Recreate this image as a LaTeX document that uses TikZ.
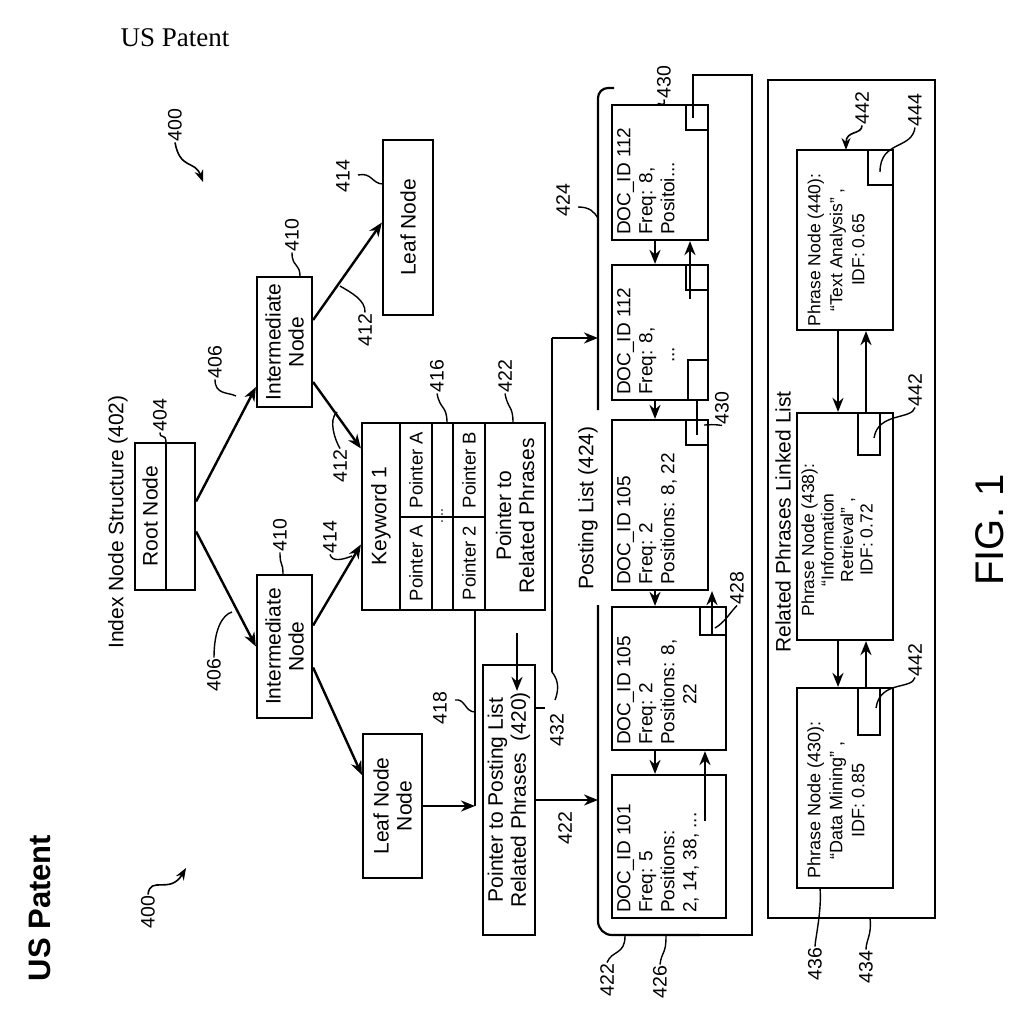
\documentclass[tikz,border=0pt]{standalone}
\usepackage{fontspec}
\setmainfont{Liberation Sans}
\newfontfamily\serifff{Liberation Serif}
\usetikzlibrary{arrows.meta,calc}
\begin{document}
\begin{tikzpicture}[x=1pt,y=-1pt,
 box/.style={draw,line width=2.2pt,inner sep=0pt},
 arr/.style={-{Stealth[length=14pt,width=11pt]},line width=2.4pt},
 sarr/.style={-{Stealth[length=12pt,width=9pt]},line width=1.6pt},
 ln/.style={line width=2.2pt},
 lead/.style={line width=1.4pt},
 lbl/.style={rotate=90,font=\fontsize{19.5}{21}\selectfont,inner sep=1pt},
 txt/.style={rotate=90,font=\fontsize{21}{23}\selectfont,align=center,inner sep=1pt},
 ctxt/.style={rotate=90,font=\fontsize{18.5}{20}\selectfont,align=center,inner sep=1pt},
 dtxt/.style={rotate=90,font=\fontsize{19}{22}\selectfont,align=left,inner sep=0pt,anchor=north west}]
\useasboundingbox (0,0) rectangle (1024,1024);

% header texts
\node[font=\serifff\fontsize{27}{29}\selectfont] (hdr) at (175,38) {US Patent};
\node[rotate=90,font=\bfseries\fontsize{31}{33}\selectfont] (hdr2) at (40,908) {US Patent};
\node[rotate=90,font=\fontsize{40}{42}\selectfont] (fig) at (990,530) {FIG. 1};
\node[txt] (title) at (118,522) {Index Node Structure (402)};

% 400 labels
\node[lbl] (l400a) at (175,125) {400};
\coordinate (t400a) at (203,182);
\draw[sarr] (l400a.west) .. controls (180,170) and (195,160) .. (t400a);
\node[lbl] (l400b) at (148,912) {400};
\coordinate (t400b) at (186,868);
\draw[sarr] (l400b.east) .. controls (150,875) and (170,895) .. (t400b);

% tree boxes
\node[box,minimum width=60pt,minimum height=147pt] (root) at (165,516.5) {};
\draw[ln] ($(root.north)+(1,0)$) -- ($(root.south)+(1,0)$);
\node[txt] (roott) at (150,516) {Root Node};
\node[box,minimum width=55pt,minimum height=130pt] (int1) at (284.5,342) {};
\node[txt] (int1t) at (284.5,342) {Intermediate\\Node};
\node[box,minimum width=55pt,minimum height=143pt] (int2) at (284.5,646.5) {};
\node[txt] (int2t) at (284.5,646.5) {Intermediate\\Node};
\node[box,minimum width=50pt,minimum height=175pt] (leaf1) at (408,227.5) {};
\node[txt] (leaf1t) at (408,227.5) {Leaf Node};
\node[box,minimum width=59pt,minimum height=144pt] (leaf2) at (392.5,806) {};
\node[txt] (leaf2t) at (392.5,806) {Leaf Node\\Node};

% keyword table
\node[box,minimum width=183pt,minimum height=187pt] (kw) at (453.5,516.5) {};
\foreach \xx in {400,432,453,485}{\draw[ln] (\xx,423) -- (\xx,610);}
\draw[ln] (400,517) -- (485,517);
\node[txt] (kw1) at (381,516) {Keyword 1};
\node[ctxt] (kpa1) at (416,563) {Pointer A};
\node[ctxt] (kpa2) at (416,470) {Pointer A};
\node[txt,font=\fontsize{14}{16}\selectfont] (kdots) at (442,516) {....};
\node[ctxt] (kp2) at (469,563) {Pointer 2};
\node[ctxt] (kpb) at (469,470) {Pointer B};
\node[txt] (kpr) at (515,516) {Pointer to\\Related Phrases};

% pointer box 420
\node[box,minimum width=52pt,minimum height=270pt] (p420) at (509,800) {};
\node[txt] (p420t) at (509,800) {Pointer to Posting List\\Related Phrases\ \ (420)};

% tree edges
\draw[arr] ($(root.east)+(0,-15)$) -- ($(int1.west)+(0,45)$);
\draw[arr] ($(root.east)+(0,15)$) -- (int2.west);
\draw[arr] ($(int1.east)+(0,-22)$) -- ($(leaf1.west)+(0,-5)$);
\draw[arr] ($(int1.east)+(0,40)$) -- ($(kw.west)+(0,-68)$);
\draw[arr] ($(int2.east)+(0,-21)$) -- ($(kw.west)+(0,28)$);
\draw[arr] ($(int2.east)+(0,21)$) -- ($(leaf2.west)+(0,-31)$);
\coordinate (j418) at (475,806);
\draw[arr] (leaf2.east) -- (j418);
\draw[ln] (kw.south -| j418) -- (j418);
\draw[arr] ($(kw.south)+(63.5,22)$) -- ($(p420.north)+(8,27)$);
\coordinate (plb) at (598,800);
\draw[arr] (p420.east) -- (plb);
\coordinate (p432) at (598,338);
\draw[ln] (552,672) -- (552,338);
\draw[arr] (552,338) -- (p432);
\draw[lead] (552,672) .. controls (560,682) and (558,692) .. (555,700);

% posting list frame
\draw[ln,rounded corners=10pt] (614,88) -- (598,88) -- (598,410);
\draw[ln,rounded corners=14pt] (598,605) -- (598,935) -- (700,935);
\draw[ln] (690,935) -- (752,935) -- (752,75) -- (693,75) -- (693,118);
\node[txt] (plt) at (588,508) {Posting List (424)};

% posting boxes
\node[box,minimum width=96pt,minimum height=135pt] (d112a) at (660,172.5) {};
\node[box,minimum width=96pt,minimum height=135pt] (d112b) at (660,332.5) {};
\node[box,minimum width=96pt,minimum height=170pt] (d105a) at (660,505) {};
\node[box,minimum width=114pt,minimum height=143pt] (d105b) at (669,678.5) {};
\node[box,minimum width=114pt,minimum height=143pt] (d101) at (669,846.5) {};
\node[dtxt] (d112at) at ($(d112a.south west)+(6,-6)$) {DOC\_ID 112\\Freq: 8,\\Positoi...};
\node[dtxt] (d112bt) at ($(d112b.south west)+(6,-6)$) {DOC\_ID 112\\Freq: 8,\\\hspace*{32pt}...};
\node[dtxt] (d105at) at ($(d105a.south west)+(6,-6)$) {DOC\_ID 105\\Freq: 2\\Positions: 8, 22};
\node[dtxt] (d105bt) at ($(d105b.south west)+(6,-6)$) {DOC\_ID 105\\Freq: 2\\Positions: 8,\\\hspace*{40pt}22};
\node[dtxt] (d101t) at ($(d101.south west)+(6,-6)$) {DOC\_ID 101\\Freq: 5\\Positions:\\2, 14, 38, ...};
% pointer squares
\draw[ln] (686,105) rectangle (708,130);
\draw[ln] (686,265) rectangle (708,290);
\draw[ln] (688,360) rectangle (708,400);
\draw[ln] (686,420) rectangle (708,445);
\draw[ln] (700,607) rectangle (726,635);
% down arrows
\coordinate (cx) at (655,0);
\draw[arr] (d112a.south -| cx) -- (d112b.north -| cx);
\draw[arr] (d112b.south -| cx) -- (d105a.north -| cx);
\draw[arr] (d105a.south -| cx) -- (d105b.north -| cx);
\draw[arr] (d105b.south -| cx) -- (d101.north -| cx);
% up arrows
\draw[arr] ($(d112b.north)+(30,35)$) -- ($(d112a.south)+(30,0)$);
\draw[ln] (697,435) -- (697,400);
\draw[arr] ($(d105b.north)+(43,30)$) -- ($(d105a.south)+(52,0)$);
\draw[arr] ($(d101.north)+(36,47)$) -- ($(d105b.south)+(36,0)$);

% related phrases
\node[box,minimum width=167pt,minimum height=838pt] (rel) at (851.5,499) {};
\node[txt] (relt) at (783,522) {Related Phrases Linked List};
\node[box,minimum width=96pt,minimum height=180pt] (ph440) at (845,240) {};
\node[box,minimum width=96pt,minimum height=227pt] (ph438) at (845,526.5) {};
\node[box,minimum width=96pt,minimum height=200pt] (ph430) at (845,788) {};
\node[txt,font=\fontsize{17.5}{22}\selectfont] (ph440t) at (836,250) {Phrase Node (440):\\``Text Analysis'' ,\\IDF: 0.65};
\node[txt,font=\fontsize{17.5}{19.5}\selectfont] (ph438t) at (837,540) {Phrase Node (438):\\``Information\\Retrieval'' ,\\IDF: 0.72};
\node[txt,font=\fontsize{18}{22}\selectfont] (ph430t) at (836,800) {Phrase Node (430):\\``Data Mining'' ,\\IDF: 0.85};
\draw[ln] (868,150) rectangle (893,185);
\draw[ln] (858,413) rectangle (880,455);
\draw[ln] (858,688) rectangle (880,735);
\coordinate (cd) at (838,0);
\coordinate (cu) at (866,0);
\draw[arr] (ph440.south -| cd) -- (ph438.north -| cd);
\draw[arr] (ph438.north -| cu) -- (ph440.south -| cu);
\draw[arr] (ph438.south -| cd) -- (ph430.north -| cd);
\draw[arr] (ph430.north -| cu) -- (ph438.south -| cu);

% reference labels
\node[lbl] (n404) at (160,415) {404};
\draw[lead] (n404.west) .. controls (160,440) and (166,432) .. (166,443);
\node[lbl] (n406a) at (215,362) {406};
\coordinate (t406a) at (236,396);
\draw[lead] (n406a.west) .. controls (215,395) and (228,392) .. (t406a);
\node[lbl] (n406b) at (214,675) {406};
\coordinate (t406b) at (232,612);
\draw[lead] (n406b.east) .. controls (214,630) and (222,615) .. (t406b);
\node[lbl] (n410a) at (292,235) {410};
\draw[lead] (n410a.west) .. controls (292,268) and (300,262) .. (300,277);
\node[lbl] (n410b) at (280,535) {410};
\draw[lead] (n410b.west) .. controls (280,568) and (283,560) .. (283,575);
\node[lbl] (n412a) at (365,330) {412};
\coordinate (t412a) at (340,286);
\draw[lead] (n412a.east) .. controls (366,300) and (350,292) .. (t412a);
\node[lbl] (n412b) at (340,466) {412};
\coordinate (t412b) at (337,412);
\draw[lead] (n412b.east) .. controls (335,440) and (328,420) .. (t412b);
\node[lbl] (n414a) at (330,537) {414};
\coordinate (t414a) at (352,556);
\draw[lead] (n414a.west) .. controls (332,562) and (342,560) .. (t414a);
\node[lbl] (n414b) at (343,176) {414};
\draw[lead] (358,175) .. controls (372,172) and (372,184) .. (383,184);
\node[lbl] (n416) at (437,376) {416};
\draw[lead] (n416.west) .. controls (440,410) and (447,405) .. (447,423);
\node[lbl] (n422a) at (505,376) {422};
\draw[lead] (n422a.west) .. controls (508,410) and (513,405) .. (513,423);
\node[lbl] (n418) at (440,708) {418};
\draw[lead] (455,700) .. controls (465,698) and (465,712) .. (475,712);
\node[lbl] (n432) at (557,730) {432};
\draw[lead] (535,708) -- (545,708);
\node[lbl] (n422b) at (565,828) {422};
\node[lbl] (n424) at (563,200) {424};
\draw[lead] (578,207) .. controls (590,207) and (594,212) .. (598,218);
\node[lbl] (n430a) at (664,82) {430};
\draw[lead] (n430a.west) .. controls (666,110) and (658,100) .. (657,105);
\node[lbl] (n430b) at (722,408) {430};
\draw[lead] (704,425) .. controls (710,425) and (712,424) .. (n430b.west);
\node[lbl] (n428) at (737,588) {428};
\draw[lead] (715,628) .. controls (725,622) and (728,615) .. (n428.west);
\node[lbl] (n422c) at (607,980) {422};
\draw[lead] (n422c.east) .. controls (612,950) and (625,955) .. (625,936);
\node[lbl] (n426) at (660,982) {426};
\draw[lead] (n426.east) .. controls (662,950) and (666,955) .. (666,936);
\node[lbl] (n442a) at (862,108) {442};
\coordinate (t442a) at (846,150);
\draw[sarr] (n442a.west) .. controls (862,135) and (846,130) .. (t442a);
\node[lbl] (n444) at (915,110) {444};
\draw[lead] (n444.west) .. controls (912,150) and (880,140) .. (880,172);
\node[lbl] (n442b) at (915,390) {442};
\draw[lead] (n442b.west) .. controls (912,420) and (878,412) .. (874,438);
\node[lbl] (n442c) at (915,660) {442};
\draw[lead] (n442c.west) .. controls (912,690) and (880,680) .. (876,708);
\node[lbl] (n436) at (815,964) {436};
\draw[lead] (n436.east) .. controls (815,940) and (822,910) .. (820,888);
\node[lbl] (n434) at (866,967) {434};
\draw[lead] (n434.east) .. controls (866,940) and (872,935) .. (870,918);
\end{tikzpicture}
\end{document}
